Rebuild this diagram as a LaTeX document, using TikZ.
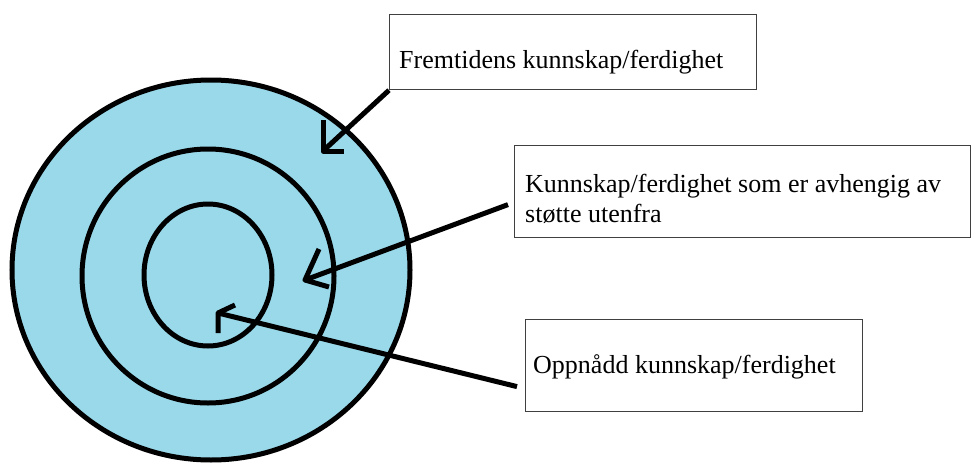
\documentclass[tikz,border=0pt]{standalone}
\usepackage{fontspec}
\setmainfont{Liberation Serif}
\usetikzlibrary{calc}
\definecolor{ringblue}{RGB}{153,217,234}
\begin{document}
\begin{tikzpicture}[x=1pt,y=-1pt,
  ring/.style={line width=5pt},
  labelbox/.style={draw=black!75, line width=1.2pt, rectangle, anchor=north west, inner sep=0pt},
  labeltext/.style={anchor=base west, inner sep=0pt, font=\rmfamily\fontsize{26}{30}\selectfont, align=left},
  pointer/.style={line width=5pt, line join=round},
]
\useasboundingbox (0,0) rectangle (972,463);
% rings
\fill[ringblue] (211,270) ellipse [x radius=199, y radius=190];
\draw[ring] (211,270) ellipse [x radius=199, y radius=190];
\draw[ring] (208,276) ellipse [x radius=126, y radius=127];
\draw[ring] (208,275) ellipse [x radius=64, y radius=71];
% boxes
\node[labelbox, minimum width=367pt, minimum height=75pt] (box1) at (389,14) {};
\node[labeltext] (txt1) at (399,68) {Fremtidens kunnskap/ferdighet};
\node[labelbox, minimum width=456pt, minimum height=92pt] (box2) at (514,145) {};
\node[labeltext] (txt2) at (525,222) {Kunnskap/ferdighet som er avhengig av\\støtte utenfra};
\node[labelbox, minimum width=337pt, minimum height=92pt] (box3) at (525,319) {};
\node[labeltext] (txt3) at (533,373) {Oppnådd kunnskap/ferdighet};
% pointers
\coordinate (tip1) at (323,151);
\coordinate (tip2) at (305,280);
\coordinate (tip3) at (218,313);
\draw[pointer] (box1.south west) -- (tip1);
\draw[pointer] ($(tip1)+(0,-31)$) -- (tip1) -- ($(tip1)+(21,0)$);
\draw[pointer] ($(box2.west)+(-6,13)$) -- (tip2);
\draw[pointer] ($(tip2)+(14,-31)$) -- (tip2) -- ($(tip2)+(24,7)$);
\draw[pointer] ($(box3.west)+(-8,21)$) -- (tip3);
\draw[pointer] ($(tip3)+(17,-8)$) -- (tip3) -- ($(tip3)+(0,20)$);
\end{tikzpicture}
\end{document}
